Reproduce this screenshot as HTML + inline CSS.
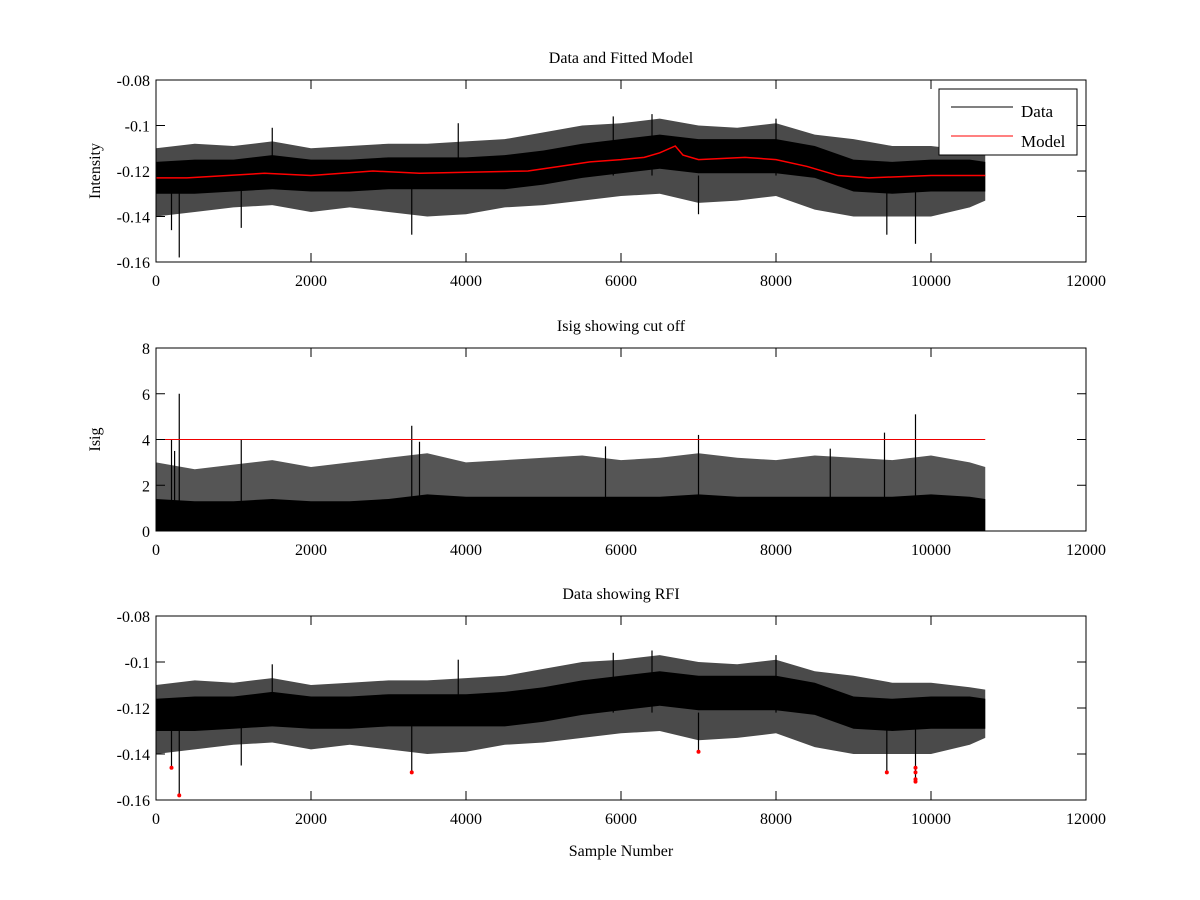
<!DOCTYPE html>
<html><head><meta charset="utf-8">
<style>
html,body{margin:0;padding:0;background:#fff;}
svg{display:block;font-family:"Liberation Serif",serif;}
</style></head>
<body>
<svg id="fig" width="1200" height="900" viewBox="0 0 1200 900" xmlns="http://www.w3.org/2000/svg"></svg>
<script>
// ---------- data ----------
const binX = [0,500,1000,1500,2000,2500,3000,3500,4000,4500,5000,5500,6000,6500,7000,7500,8000,8500,9000,9500,10000,10500,10700];
const dataOuterHi = [-0.110,-0.108,-0.109,-0.107,-0.110,-0.109,-0.108,-0.108,-0.107,-0.106,-0.103,-0.100,-0.099,-0.097,-0.100,-0.101,-0.099,-0.104,-0.106,-0.109,-0.109,-0.111,-0.112];
const dataOuterLo = [-0.140,-0.138,-0.136,-0.135,-0.138,-0.136,-0.138,-0.140,-0.139,-0.136,-0.135,-0.133,-0.131,-0.130,-0.134,-0.133,-0.131,-0.137,-0.140,-0.140,-0.140,-0.136,-0.133];
const dataCoreHi = [-0.116,-0.115,-0.115,-0.113,-0.115,-0.115,-0.114,-0.114,-0.114,-0.113,-0.111,-0.108,-0.106,-0.104,-0.106,-0.106,-0.106,-0.109,-0.115,-0.116,-0.115,-0.115,-0.116];
const dataCoreLo = [-0.130,-0.130,-0.129,-0.128,-0.129,-0.129,-0.128,-0.128,-0.128,-0.128,-0.126,-0.123,-0.121,-0.119,-0.121,-0.121,-0.121,-0.123,-0.129,-0.130,-0.129,-0.129,-0.129];
const spikeX = [200,300,1100,1500,3300,3900,5900,6400,7000,8000,9430,9800];
const spikeY = [-0.146,-0.158,-0.145,-0.101,-0.148,-0.099,-0.096,-0.095,-0.139,-0.097,-0.148,-0.152];
const modelX = [0,400,1400,2000,2800,3400,4800,5200,5600,6000,6300,6500,6700,6800,7000,7600,8000,8400,8800,9200,10000,10700];
const modelY = [-0.123,-0.123,-0.121,-0.122,-0.120,-0.121,-0.120,-0.118,-0.116,-0.115,-0.114,-0.112,-0.109,-0.113,-0.115,-0.114,-0.115,-0.118,-0.122,-0.123,-0.122,-0.122];
const isigOuter = [3.0,2.7,2.9,3.1,2.8,3.0,3.2,3.4,3.0,3.1,3.2,3.3,3.1,3.2,3.4,3.2,3.1,3.3,3.2,3.1,3.3,3.0,2.8];
const isigCore = [1.4,1.3,1.3,1.4,1.3,1.3,1.4,1.6,1.5,1.5,1.5,1.5,1.5,1.5,1.6,1.5,1.5,1.5,1.5,1.5,1.6,1.5,1.4];
const isigSpikeX = [200,240,300,1100,3300,3400,5800,7000,8700,9400,9800];
const isigSpikeY = [4.0,3.5,6.0,4.0,4.6,3.9,3.7,4.2,3.6,4.3,5.1];
const cutoff = 4;
const rfiX = [200,300,3300,7000,9430,9800,9800,9800,9800];
const rfiY = [-0.146,-0.158,-0.148,-0.139,-0.148,-0.146,-0.148,-0.151,-0.152];
const xTicks = [0,2000,4000,6000,8000,10000,12000];
const yTicksI = [-0.16,-0.14,-0.12,-0.1,-0.08];
const yTicksS = [0,2,4,6,8];

// ---------- drawing ----------
const NS="http://www.w3.org/2000/svg";
const svg=document.getElementById('fig');
function mk(tag,attrs,parent){const e=document.createElementNS(NS,tag);for(const k in attrs)e.setAttribute(k,attrs[k]);(parent||svg).appendChild(e);return e;}
const X0=156,X1=1086;
const sx=v=>X0+(v/12000)*(X1-X0);
function axisY(top,bot,lo,hi){return v=>bot-(v-lo)/(hi-lo)*(bot-top);}
function band(g,sy,hi,lo,fill,name){
  let d='M'+binX.map((x,i)=>sx(x)+','+sy(hi[i])).join(' L');
  for(let i=binX.length-1;i>=0;i--)d+=' L'+sx(binX[i])+','+sy(lo[i]);
  const p=mk('path',{d:d+'Z',fill:fill},g);
  
  
}
function frame(top,bot,sy,yt,fmt,title,ylabel,name){
  const g=mk('g',{});
  
  
  const t=mk('text',{x:621,y:top-17,'text-anchor':'middle','font-size':16},g);t.textContent=title;
  
  
  if(ylabel){const yl=mk('text',{transform:`translate(100,${(top+bot)/2}) rotate(-90)`,'text-anchor':'middle','font-size':16},g);yl.textContent=ylabel;
    
    }
  return g;
}
function axes(g,top,bot,sy,yt,fmt,name){
  mk('rect',{x:X0,y:top,width:X1-X0,height:bot-top,fill:'none',stroke:'#000','stroke-width':1},g);
  xTicks.forEach(v=>{const x=sx(v);
    mk('line',{x1:x,y1:bot,x2:x,y2:bot-9,stroke:'#000'},g);
    mk('line',{x1:x,y1:top,x2:x,y2:top+9,stroke:'#000'},g);
    const t=mk('text',{x:x,y:bot+24,'text-anchor':'middle','font-size':16},g);t.textContent=v;
    
    });
  yt.forEach(v=>{const y=sy(v);
    mk('line',{x1:X0,y1:y,x2:X0+9,y2:y,stroke:'#000'},g);
    mk('line',{x1:X1,y1:y,x2:X1-9,y2:y,stroke:'#000'},g);
    const t=mk('text',{x:X0-6,y:y+6,'text-anchor':'end','font-size':16},g);t.textContent=fmt(v);
    
    });
}
const fmtI=v=>String(+v.toFixed(2));
function spikes(g,sy,xs,ys,base,name){
  xs.forEach((x,i)=>{const l=mk('line',{x1:sx(x),x2:sx(x),y1:sy(base(x)),y2:sy(ys[i]),stroke:'#000','stroke-width':1.2},g);
    
    });
}
// Panel 1
{
  const top=80,bot=262,sy=axisY(top,bot,-0.16,-0.08);
  const g=frame(top,bot,sy,yTicksI,fmtI,'Data and Fitted Model','Intensity','panel-data-model');
  band(g,sy,dataOuterHi,dataOuterLo,'#4a4a4a','data-envelope');
  band(g,sy,dataCoreHi,dataCoreLo,'#000','data-core');
  spikes(g,sy,spikeX,spikeY,()=>-0.122,'data-spike');
  const m=mk('polyline',{points:modelX.map((x,i)=>sx(x)+','+sy(modelY[i])).join(' '),fill:'none',stroke:'#f00','stroke-width':1.5},g);
  
  
  axes(g,top,bot,sy,yTicksI,fmtI,'panel1');
  const lg=mk('g',{},g);
  
  
  mk('rect',{x:939,y:89,width:138,height:66,fill:'#fff',stroke:'#000'},lg);
  mk('line',{x1:951,y1:107,x2:1013,y2:107,stroke:'#000'},lg);
  mk('line',{x1:951,y1:136,x2:1013,y2:136,stroke:'#f00'},lg);
  const t1=mk('text',{x:1021,y:117,'font-size':17},lg);t1.textContent='Data';
  
  
  const t2=mk('text',{x:1021,y:147,'font-size':17},lg);t2.textContent='Model';
  
  
}
// Panel 2
{
  const top=348,bot=531,sy=axisY(top,bot,0,8);
  const g=frame(top,bot,sy,yTicksS,String,'Isig showing cut off','Isig','panel-isig');
  band(g,sy,isigOuter,isigOuter.map(()=>0),'#555','isig-envelope');
  band(g,sy,isigCore,isigCore.map(()=>0),'#000','isig-core');
  spikes(g,sy,isigSpikeX,isigSpikeY,()=>0,'isig-spike');
  const c=mk('line',{x1:sx(0),x2:sx(10700),y1:sy(cutoff),y2:sy(cutoff),stroke:'#e00','stroke-width':1},g);
  
  
  axes(g,top,bot,sy,yTicksS,String,'panel2');
}
// Panel 3
{
  const top=616,bot=800,sy=axisY(top,bot,-0.16,-0.08);
  const g=frame(top,bot,sy,yTicksI,fmtI,'Data showing RFI','','panel-rfi');
  band(g,sy,dataOuterHi,dataOuterLo,'#4a4a4a','rfi-data-envelope');
  band(g,sy,dataCoreHi,dataCoreLo,'#000','rfi-data-core');
  spikes(g,sy,spikeX,spikeY,()=>-0.122,'rfi-data-spike');
  rfiX.forEach((x,i)=>{const c=mk('circle',{cx:sx(x),cy:sy(rfiY[i]),r:2,fill:'#f00'},g);
    
    });
  axes(g,top,bot,sy,yTicksI,fmtI,'panel3');
  const xl=mk('text',{x:621,y:856,'text-anchor':'middle','font-size':16},g);xl.textContent='Sample Number';
  
  
}
</script>
</body></html>
